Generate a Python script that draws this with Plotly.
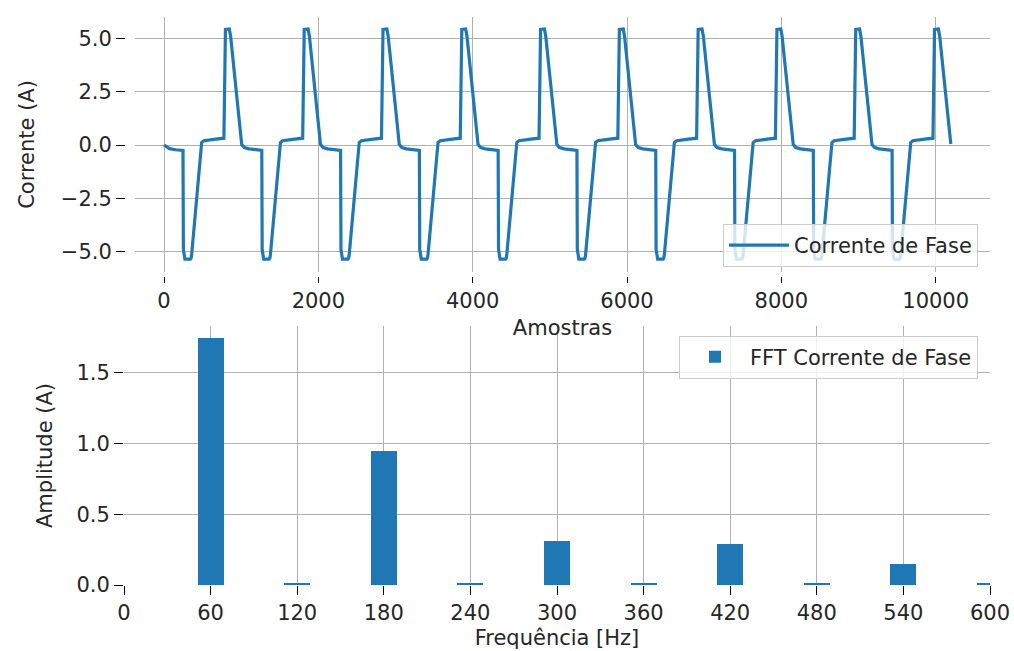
import plotly.graph_objects as go

W, H = 1014, 651

# ---------------- data: phase current waveform (vertices) ----------------
amostras = [
    0, 25, 70, 150,
    246, 251, 263, 271, 341, 351, 359, 488, 516, 581, 671, 776, 786, 796, 846, 856, 863, 1007, 1041, 1101, 1191,
    1267, 1272, 1284, 1292, 1362, 1372, 1380, 1509, 1537, 1602, 1692, 1797, 1807, 1817, 1867, 1877, 1884, 2028, 2062, 2122, 2212,
    2288, 2293, 2305, 2313, 2383, 2393, 2401, 2530, 2558, 2623, 2713, 2818, 2828, 2838, 2888, 2898, 2905, 3049, 3083, 3143, 3233,
    3309, 3314, 3326, 3334, 3404, 3414, 3422, 3551, 3579, 3644, 3734, 3839, 3849, 3859, 3909, 3919, 3926, 4070, 4104, 4164, 4254,
    4330, 4335, 4347, 4355, 4425, 4435, 4443, 4572, 4600, 4665, 4755, 4860, 4870, 4880, 4930, 4940, 4947, 5091, 5125, 5185, 5275,
    5351, 5356, 5368, 5376, 5446, 5456, 5464, 5593, 5621, 5686, 5776, 5881, 5891, 5901, 5951, 5961, 5968, 6112, 6146, 6206, 6296,
    6372, 6377, 6389, 6397, 6467, 6477, 6485, 6614, 6642, 6707, 6797, 6902, 6912, 6922, 6972, 6982, 6989, 7133, 7167, 7227, 7317,
    7393, 7398, 7410, 7418, 7488, 7498, 7506, 7635, 7663, 7728, 7818, 7923, 7933, 7943, 7993, 8003, 8010, 8154, 8188, 8248, 8338,
    8414, 8419, 8431, 8439, 8509, 8519, 8527, 8656, 8684, 8749, 8839, 8944, 8954, 8964, 9014, 9024, 9031, 9175, 9209, 9269, 9359,
    9435, 9440, 9452, 9460, 9530, 9540, 9548, 9677, 9705, 9770, 9860, 9965, 9975, 9985, 10035, 10045, 10052, 10196,
]
corrente = [
    0.0, -0.05, -0.17, -0.22,
    -0.25, -4.9, -5.3, -5.35, -5.35, -5.3, -5.1, 0.12, 0.2, 0.24, 0.28, 0.32, 5.2, 5.42, 5.44, 5.3, 5.1, 0.02, -0.12, -0.18, -0.22,
    -0.25, -4.9, -5.3, -5.35, -5.35, -5.3, -5.1, 0.12, 0.2, 0.24, 0.28, 0.32, 5.2, 5.42, 5.44, 5.3, 5.1, 0.02, -0.12, -0.18, -0.22,
    -0.25, -4.9, -5.3, -5.35, -5.35, -5.3, -5.1, 0.12, 0.2, 0.24, 0.28, 0.32, 5.2, 5.42, 5.44, 5.3, 5.1, 0.02, -0.12, -0.18, -0.22,
    -0.25, -4.9, -5.3, -5.35, -5.35, -5.3, -5.1, 0.12, 0.2, 0.24, 0.28, 0.32, 5.2, 5.42, 5.44, 5.3, 5.1, 0.02, -0.12, -0.18, -0.22,
    -0.25, -4.9, -5.3, -5.35, -5.35, -5.3, -5.1, 0.12, 0.2, 0.24, 0.28, 0.32, 5.2, 5.42, 5.44, 5.3, 5.1, 0.02, -0.12, -0.18, -0.22,
    -0.25, -4.9, -5.3, -5.35, -5.35, -5.3, -5.1, 0.12, 0.2, 0.24, 0.28, 0.32, 5.2, 5.42, 5.44, 5.3, 5.1, 0.02, -0.12, -0.18, -0.22,
    -0.25, -4.9, -5.3, -5.35, -5.35, -5.3, -5.1, 0.12, 0.2, 0.24, 0.28, 0.32, 5.2, 5.42, 5.44, 5.3, 5.1, 0.02, -0.12, -0.18, -0.22,
    -0.25, -4.9, -5.3, -5.35, -5.35, -5.3, -5.1, 0.12, 0.2, 0.24, 0.28, 0.32, 5.2, 5.42, 5.44, 5.3, 5.1, 0.02, -0.12, -0.18, -0.22,
    -0.25, -4.9, -5.3, -5.35, -5.35, -5.3, -5.1, 0.12, 0.2, 0.24, 0.28, 0.32, 5.2, 5.42, 5.44, 5.3, 5.1, 0.02, -0.12, -0.18, -0.22,
    -0.25, -4.9, -5.3, -5.35, -5.35, -5.3, -5.1, 0.12, 0.2, 0.24, 0.28, 0.32, 5.2, 5.42, 5.44, 5.3, 5.1, 0.05,
]

# ---------------- data: FFT spectrum ----------------
frequencias = [60, 120, 180, 240, 300, 360, 420, 480, 540, 600]
amplitudes = [1.744, 0.012, 0.948, 0.012, 0.309, 0.012, 0.287, 0.012, 0.145, 0.012]

x_ticks_top = [0, 2000, 4000, 6000, 8000, 10000]
y_ticks_top = [-5.0, -2.5, 0.0, 2.5, 5.0]
x_ticks_bot = [0, 60, 120, 180, 240, 300, 360, 420, 480, 540, 600]
y_ticks_bot = [0.0, 0.5, 1.0, 1.5]

BLUE = "#1f77b4"
GRID = "#b0b0b0"
TXT = "#262626"
FONT = "DejaVu Sans"
FS = 21


def px_x(p):
    return p / W


def px_y(p):
    return 1 - p / H


fig = go.Figure()

fig.add_trace(go.Scatter(
    x=amostras, y=corrente, mode="lines", name="Corrente de Fase",
    line=dict(color=BLUE, width=3.2), xaxis="x", yaxis="y", legend="legend",
    showlegend=True,
))

fig.add_trace(go.Bar(
    x=frequencias, y=amplitudes, width=18, name="FFT Corrente de Fase",
    marker=dict(color=BLUE, line=dict(width=0)), xaxis="x2", yaxis="y2", legend="legend2",
    showlegend=True,
))

common_axis = dict(
    showgrid=True, gridcolor=GRID, gridwidth=1.3, zeroline=False, showline=False,
    ticks="outside", tickcolor="#000000", tickwidth=1.3, automargin=False,
    tickfont=dict(family=FONT, size=FS, color=TXT),
)

fig.update_layout(
    width=W, height=H,
    margin=dict(l=0, r=0, t=0, b=0),
    paper_bgcolor="white", plot_bgcolor="white",
    font=dict(family=FONT, size=FS, color=TXT),
    showlegend=True,
    xaxis=dict(
        **common_axis,
        domain=[px_x(135), px_x(990)], range=[-376, 10704],
        tickvals=x_ticks_top, ticktext=[str(v) for v in x_ticks_top],
        ticklen=6, anchor="free", position=px_y(276),
        title=dict(text="Amostras", font=dict(family=FONT, size=FS, color=TXT), standoff=8),
    ),
    yaxis=dict(
        **common_axis,
        domain=[px_y(272), px_y(17)], range=[-5.95, 6.0],
        tickvals=y_ticks_top, tickformat=".1f",
        ticklen=9, anchor="free", position=px_x(125),
        title=dict(text="Corrente (A)", font=dict(family=FONT, size=FS, color=TXT), standoff=19),
    ),
    xaxis2=dict(
        **common_axis,
        domain=[px_x(124), px_x(990)], range=[0, 600],
        tickvals=x_ticks_bot, ticktext=[str(v) for v in x_ticks_bot],
        ticklen=9, anchor="y2",
        title=dict(text="Frequência [Hz]", font=dict(family=FONT, size=FS, color=TXT), standoff=6),
    ),
    yaxis2=dict(
        **common_axis,
        domain=[px_y(585), px_y(326)], range=[0, 1.83],
        tickvals=y_ticks_bot, tickformat=".1f",
        ticklen=9, anchor="x2",
        title=dict(text="Amplitude (A)", font=dict(family=FONT, size=FS, color=TXT), standoff=18),
    ),
    legend=dict(
        x=px_x(978), y=px_y(245.5), xanchor="right", yanchor="middle",
        bgcolor="rgba(255,255,255,0.8)", bordercolor="#cccccc", borderwidth=1,
        font=dict(family=FONT, size=FS, color=TXT), itemwidth=60, visible=True,
    ),
    legend2=dict(
        x=px_x(978), y=px_y(357), xanchor="right", yanchor="middle",
        bgcolor="rgba(255,255,255,0.8)", bordercolor="#cccccc", borderwidth=1,
        font=dict(family=FONT, size=FS, color=TXT), itemwidth=60, visible=True,
    ),
    bargap=0,
)

fig.write_html("out.html")
